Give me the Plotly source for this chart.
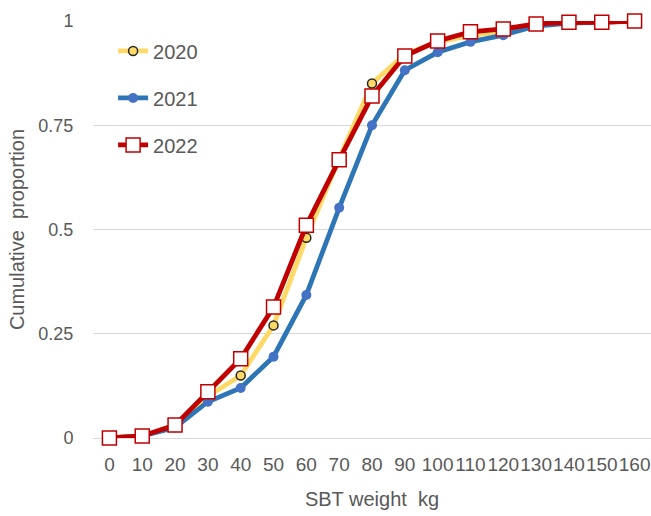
import plotly.graph_objects as go

weights = [0, 10, 20, 30, 40, 50, 60, 70, 80, 90, 100, 110, 120, 130, 140, 150, 160]
y2020 = [0, 0.005, 0.03, 0.10, 0.15, 0.27, 0.48, 0.67, 0.85, 0.92, 0.95, 0.965, 0.975, 0.99, 0.995, 0.997, 1.0]
y2021 = [0, 0.005, 0.025, 0.087, 0.12, 0.195, 0.343, 0.552, 0.75, 0.882, 0.925, 0.95, 0.966, 0.988, 0.995, 0.997, 1.0]
y2022 = [0, 0.005, 0.031, 0.111, 0.19, 0.314, 0.51, 0.667, 0.82, 0.916, 0.952, 0.974, 0.981, 0.993, 0.997, 0.997, 1.0]
y_ticks = [0, 0.25, 0.5, 0.75, 1]
y_tick_labels = ["0", "0.25", "0.5", "0.75", "1"]

FONT = "Liberation Sans, Arial, sans-serif"
GREY = "#595959"

fig = go.Figure()
fig.add_trace(go.Scatter(
    x=weights, y=y2020, name="2020", mode="lines+markers", legendgroup="a",
    line=dict(color="#FFD966", width=4.8),
    marker=dict(symbol="circle", size=9, color="#FFD966", line=dict(color="#262626", width=1.5)),
    cliponaxis=False))
fig.add_trace(go.Scatter(
    x=weights, y=y2021, name="2021", mode="lines+markers", legendgroup="b",
    line=dict(color="#2E75B6", width=4.8),
    marker=dict(symbol="circle", size=10, color="#4472C4", line=dict(color="#4472C4", width=0)),
    cliponaxis=False))
fig.add_trace(go.Scatter(
    x=weights, y=y2022, name="2022", mode="lines+markers", legendgroup="c",
    line=dict(color="#C00000", width=4.8),
    marker=dict(symbol="square", size=14, color="#FFFFFF", line=dict(color="#C00000", width=1.5)),
    cliponaxis=False))

fig.update_layout(
    width=651, height=516,
    margin=dict(l=93, r=0, t=21, b=78),
    paper_bgcolor="white", plot_bgcolor="white",
    font=dict(family=FONT, size=19, color=GREY),
    legend=dict(x=0.036, y=0.975, xanchor="left", yanchor="top",
                traceorder="grouped", tracegroupgap=18,
                font=dict(family=FONT, size=20, color=GREY),
                bgcolor="rgba(0,0,0,0)"),
    showlegend=True,
)
fig.update_xaxes(
    automargin=False,
    range=[-5, 165], tickmode="array", tickvals=weights, ticktext=[str(w) for w in weights],
    tickangle=0,
    showgrid=False, zeroline=False, showline=False,
    ticks="outside", ticklen=9, tickcolor="rgba(0,0,0,0)",
    tickfont=dict(family=FONT, size=19, color=GREY),
    title=dict(text="SBT weight  kg", font=dict(family=FONT, size=20, color=GREY), standoff=18),
)
fig.update_yaxes(
    automargin=False,
    range=[0, 1], tickmode="array", tickvals=y_ticks, ticktext=y_tick_labels,
    showgrid=True, gridcolor="#D9D9D9", gridwidth=1.3,
    zeroline=True, zerolinecolor="#D9D9D9", zerolinewidth=1.3, showline=False,
    ticks="outside", ticklen=15, tickcolor="rgba(0,0,0,0)",
    tickfont=dict(family=FONT, size=18, color=GREY),
    title=dict(text="Cumulative  proportion", font=dict(family=FONT, size=20, color=GREY), standoff=8),
)

fig.write_html("out.html", config={"displayModeBar": False},
               post_script="document.body.style.margin='0';document.body.style.overflow='hidden';")
